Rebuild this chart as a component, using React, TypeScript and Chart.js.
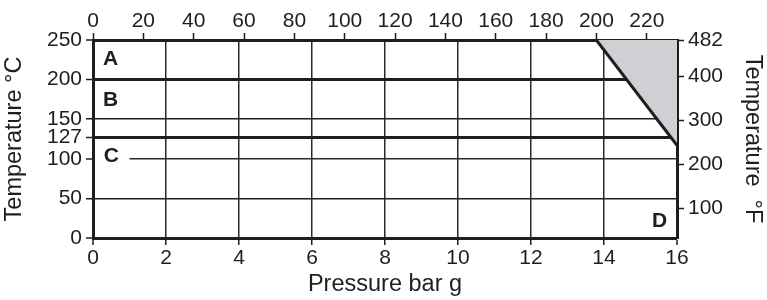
import React, { useEffect, useRef } from "react";
import { Chart, registerables } from "chart.js";

Chart.register(...registerables);

// Axis ranges
const barMin = 0;
const barMax = 16;
const psiMax = 232;
const cMin = 0;
const cMax = 250;
const fMin = 32;
const fMax = 482;

// Tick labels
const barTicks = [0, 2, 4, 6, 8, 10, 12, 14, 16];
const psiTicks = [0, 20, 40, 60, 80, 100, 120, 140, 160, 180, 200, 220];
const cTicks = [0, 50, 100, 127, 150, 200, 250];
const fTicks = [100, 200, 300, 400, 482];
const thickC = [127, 200];
const thinC = [50, 150];

// Boundary of shaded region (bar g, °C)
const triX = [13.79, 16];
const triY = [250, 117];

// Short line in region C
const cLineX = [1, 16];
const cLineY = [100, 100];

// Region labels
const regionLabels = ["A", "B", "C", "D"];
const regionX = [0.48, 0.48, 0.5, 15.52];
const regionY = [226, 174, 103.5, 21];

const FONT = "'Liberation Sans', Arial, sans-serif";
const INK = "#1e1e1e";

const labelPlugin = {
  id: "regionLabels",
  afterDatasetsDraw(chart: any) {
    const ctx = chart.ctx;
    const xs = chart.scales.x;
    const ys = chart.scales.y;
    ctx.save();
    ctx.fillStyle = INK;
    ctx.font = `bold 21px ${FONT}`;
    ctx.textAlign = "center";
    ctx.textBaseline = "middle";
    regionLabels.forEach((t, i) => {
      ctx.fillText(t, xs.getPixelForValue(regionX[i]), ys.getPixelForValue(regionY[i]));
    });
    ctx.restore();
  },
};

const setTicks = (vals: number[]) => (scale: any) => {
  scale.ticks = vals.map((v) => ({ value: v }));
};

export default function App() {
  const ref = useRef<HTMLCanvasElement | null>(null);

  useEffect(() => {
    if (!ref.current) return;
    const tickFont = { family: FONT, size: 21, lineHeight: 1 };
    const titleFont = { family: FONT, size: 23.5 };
    const chart = new Chart(ref.current, {
      type: "scatter",
      data: {
        datasets: [
          {
            data: triX.map((x, i) => ({ x, y: triY[i] })),
            showLine: true,
            borderColor: INK,
            borderWidth: 3,
            backgroundColor: "#d0d0d4",
            fill: "end",
            pointRadius: 0,
          } as any,
          {
            data: cLineX.map((x, i) => ({ x, y: cLineY[i] })),
            showLine: true,
            borderColor: "#2a2a2a",
            borderWidth: 1.5,
            pointRadius: 0,
            fill: false,
          } as any,
        ],
      },
      options: {
        animation: false,
        responsive: false,
        maintainAspectRatio: false,
        layout: { padding: 0 },
        plugins: { legend: { display: false }, tooltip: { enabled: false } },
        scales: {
          x: {
            type: "linear",
            position: "bottom",
            min: barMin,
            max: barMax,
            afterBuildTicks: setTicks(barTicks),
            afterFit: (s: any) => {
              s.height = 62;
            },
            ticks: { font: tickFont, color: INK, padding: 3, maxRotation: 0, autoSkip: false },
            grid: {
              color: "#2a2a2a",
              lineWidth: (c: any) => (c.tick && (c.tick.value === barMin || c.tick.value === barMax) ? 0 : 1.5),
              tickColor: INK,
              tickWidth: 1.5,
              tickLength: 7,
            },
            border: { color: INK, width: 3 },
            title: { display: true, text: "Pressure bar g", font: titleFont, color: INK, padding: { top: 0, bottom: 0.9 } },
          },
          x2: {
            type: "linear",
            position: "top",
            min: 0,
            max: psiMax,
            afterBuildTicks: setTicks(psiTicks),
            afterFit: (s: any) => {
              s.height = 40;
            },
            ticks: { font: tickFont, color: INK, padding: 1, maxRotation: 0, autoSkip: false },
            grid: { drawOnChartArea: false, tickColor: INK, tickWidth: 1.5, tickLength: 7 },
            border: { color: INK, width: 3 },
            z: 1,
          } as any,
          y: {
            type: "linear",
            position: "left",
            min: cMin,
            max: cMax,
            afterBuildTicks: setTicks(cTicks),
            afterFit: (s: any) => {
              s.width = 93;
            },
            ticks: { font: tickFont, color: INK, padding: 4, autoSkip: false },
            grid: {
              color: "#1e1e1e",
              lineWidth: (c: any) => {
                const v = c.tick ? c.tick.value : null;
                if (thickC.includes(v)) return 3;
                if (thinC.includes(v)) return 1.5;
                return 0;
              },
              tickColor: INK,
              tickWidth: 1.5,
              tickLength: 7,
            },
            border: { color: INK, width: 3 },
            title: { display: true, text: "Temperature °C", font: titleFont, color: INK, padding: { top: 0.9, bottom: 0 } },
          },
          y2: {
            type: "linear",
            position: "right",
            min: fMin,
            max: fMax,
            afterBuildTicks: setTicks(fTicks),
            afterFit: (s: any) => {
              s.width = 90;
            },
            ticks: { font: tickFont, color: INK, padding: 4, autoSkip: false },
            grid: { drawOnChartArea: false, tickColor: INK, tickWidth: 1.5, tickLength: 7 },
            border: { color: INK, width: 3 },
            title: { display: true, text: "Temperature  °F", font: titleFont, color: INK, padding: { top: 0, bottom: 0 } },
            z: 1,
          } as any,
        },
      } as any,
      plugins: [labelPlugin],
    });
    return () => chart.destroy();
  }, []);

  return (
    <div style={{ position: "absolute", left: 0, top: 0, width: 767, height: 300, background: "#fff" }}>
      <canvas ref={ref} width={767} height={300} style={{ width: 767, height: 300, display: "block" }} />
    </div>
  );
}
